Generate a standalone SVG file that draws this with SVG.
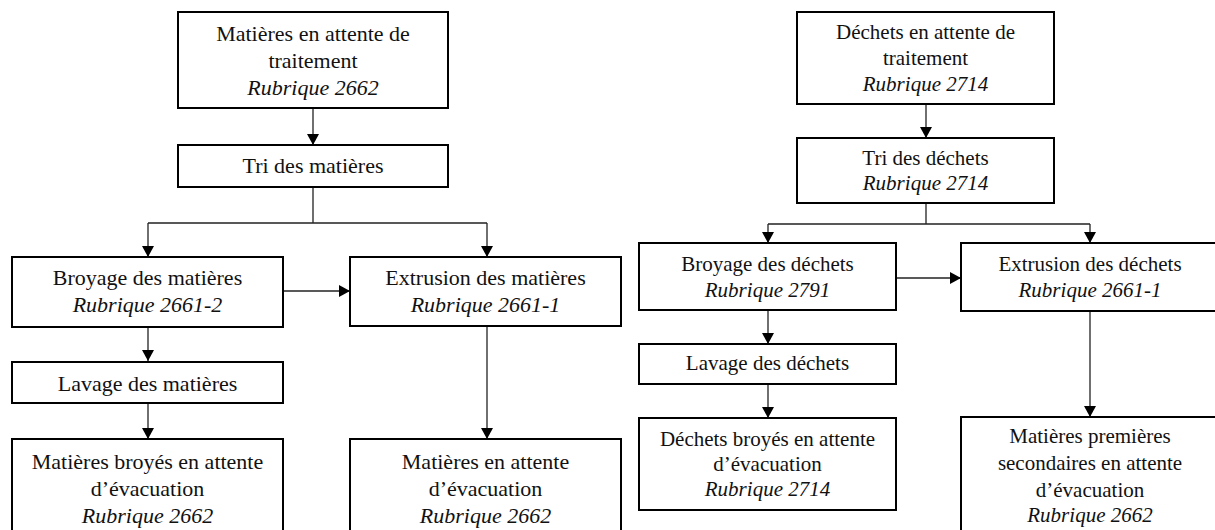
<svg xmlns="http://www.w3.org/2000/svg" width="1215" height="530" viewBox="0 0 1215 530">
<defs>
<style>
.box{fill:#fff;stroke:#000;stroke-width:2}
.t{font-family:"Liberation Serif","Times New Roman",serif;font-size:22px;fill:#111;text-anchor:middle}
.r .t{font-size:21px}
.i{font-style:italic}
.c{fill:none;stroke:#222;stroke-width:1.3}
</style>
<marker id="ah" markerUnits="userSpaceOnUse" markerWidth="11" markerHeight="12" refX="11" refY="6" orient="auto" viewBox="0 0 11 12">
<path d="M0,0 L11,6 L0,12 z" fill="#000"/>
</marker>
</defs>
<rect width="1215" height="530" fill="#fff"/>
<g id="connectors">
<path class="c" d="M313,108 V145" marker-end="url(#ah)"/>
<path class="c" d="M313,187 V223 M148,223 H487"/>
<path class="c" d="M148,223 V257" marker-end="url(#ah)"/>
<path class="c" d="M487,223 V257" marker-end="url(#ah)"/>
<path class="c" d="M283,291 H350" marker-end="url(#ah)"/>
<path class="c" d="M148,327 V361" marker-end="url(#ah)"/>
<path class="c" d="M148,403 V439" marker-end="url(#ah)"/>
<path class="c" d="M487,326 V439" marker-end="url(#ah)"/>
<path class="c" d="M926,104 V138" marker-end="url(#ah)"/>
<path class="c" d="M926,203 V224 M768,224 H1090"/>
<path class="c" d="M768,224 V243" marker-end="url(#ah)"/>
<path class="c" d="M1090,224 V243" marker-end="url(#ah)"/>
<path class="c" d="M896,278 H961" marker-end="url(#ah)"/>
<path class="c" d="M768,310 V344" marker-end="url(#ah)"/>
<path class="c" d="M768,384 V418" marker-end="url(#ah)"/>
<path class="c" d="M1090,311 V417" marker-end="url(#ah)"/>
</g>
<g id="nA"><rect class="box" x="178" y="12" width="270" height="96"/>
<text class="t" x="313" y="41">Matières en attente de</text>
<text class="t" x="313" y="68">traitement</text>
<text class="t i" x="313" y="95">Rubrique 2662</text></g>
<g id="nB"><rect class="box" x="178" y="145" width="270" height="42"/>
<text class="t" x="313" y="173">Tri des matières</text></g>
<g id="nC"><rect class="box" x="12" y="257" width="271" height="70"/>
<text class="t" x="147.5" y="285">Broyage des matières</text>
<text class="t i" x="147.5" y="312">Rubrique 2661-2</text></g>
<g id="nD"><rect class="box" x="350" y="257" width="271" height="69"/>
<text class="t" x="485.5" y="285">Extrusion des matières</text>
<text class="t i" x="485.5" y="312">Rubrique 2661-1</text></g>
<g id="nE"><rect class="box" x="12" y="362" width="271" height="41"/>
<text class="t" x="147.5" y="391">Lavage des matières</text></g>
<g id="nF"><rect class="box" x="12" y="439" width="271" height="110"/>
<text class="t" x="147.5" y="469">Matières broyés en attente</text>
<text class="t" x="147.5" y="496">d’évacuation</text>
<text class="t i" x="147.5" y="523">Rubrique 2662</text></g>
<g id="nG"><rect class="box" x="350" y="439" width="271" height="110"/>
<text class="t" x="485.5" y="469">Matières en attente</text>
<text class="t" x="485.5" y="496">d’évacuation</text>
<text class="t i" x="485.5" y="523">Rubrique 2662</text></g>
<g class="r">
<g id="nH"><rect class="box" x="797" y="12" width="257" height="92"/>
<text class="t" x="925.5" y="39">Déchets en attente de</text>
<text class="t" x="925.5" y="65">traitement</text>
<text class="t i" x="925.5" y="91">Rubrique 2714</text></g>
<g id="nI"><rect class="box" x="797" y="138" width="257" height="65"/>
<text class="t" x="925.5" y="165">Tri des déchets</text>
<text class="t i" x="925.5" y="190">Rubrique 2714</text></g>
<g id="nJ"><rect class="box" x="639" y="243" width="257" height="67"/>
<text class="t" x="767.5" y="271">Broyage des déchets</text>
<text class="t i" x="767.5" y="297">Rubrique 2791</text></g>
<g id="nK"><rect class="box" x="961" y="243" width="258" height="68"/>
<text class="t" x="1090" y="271">Extrusion des déchets</text>
<text class="t i" x="1090" y="297">Rubrique 2661-1</text></g>
<g id="nL"><rect class="box" x="639" y="344" width="257" height="40"/>
<text class="t" x="767.5" y="370">Lavage des déchets</text></g>
<g id="nM"><rect class="box" x="639" y="418" width="257" height="92"/>
<text class="t" x="767.5" y="446">Déchets broyés en attente</text>
<text class="t" x="767.5" y="471">d’évacuation</text>
<text class="t i" x="767.5" y="496">Rubrique 2714</text></g>
<g id="nN"><rect class="box" x="961" y="417" width="258" height="130"/>
<text class="t" x="1090" y="443">Matières premières</text>
<text class="t" x="1090" y="470">secondaires en attente</text>
<text class="t" x="1090" y="497">d’évacuation</text>
<text class="t i" x="1090" y="522">Rubrique 2662</text></g>
</g>
</svg>
